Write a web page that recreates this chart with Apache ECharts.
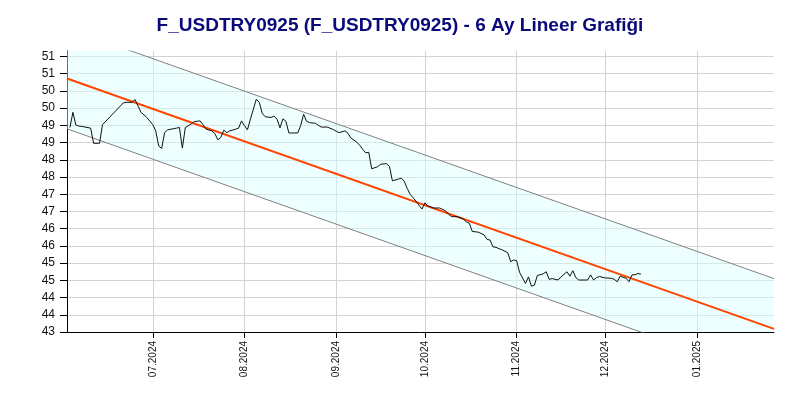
<!DOCTYPE html>
<html><head><meta charset="utf-8">
<script src="https://cdn.jsdelivr.net/npm/echarts@6/dist/echarts.min.js"></script>
<style>html,body{margin:0;padding:0;background:#fff}#c{width:800px;height:400px}</style>
</head><body><div id="c"></div>
<script>
const chartTitle = 'F_USDTRY0925 (F_USDTRY0925) - 6 Ay Lineer Grafiği';
const dates = [
'2024-06-03','2024-06-04','2024-06-05','2024-06-06','2024-06-07','2024-06-10','2024-06-11','2024-06-13','2024-06-14','2024-06-21',
'2024-06-22','2024-06-24','2024-06-25','2024-06-27','2024-06-29','2024-07-01','2024-07-02','2024-07-03','2024-07-04','2024-07-05',
'2024-07-06','2024-07-09','2024-07-10','2024-07-11','2024-07-12','2024-07-14','2024-07-15','2024-07-17','2024-07-18','2024-07-19',
'2024-07-21','2024-07-22','2024-07-23','2024-07-24','2024-07-25','2024-07-26','2024-07-27','2024-07-29','2024-07-30','2024-07-31',
'2024-08-01','2024-08-02','2024-08-03','2024-08-05','2024-08-06','2024-08-07','2024-08-08','2024-08-10','2024-08-11','2024-08-12',
'2024-08-13','2024-08-14','2024-08-15','2024-08-16','2024-08-17','2024-08-19','2024-08-20','2024-08-21','2024-08-22','2024-08-23',
'2024-08-25','2024-08-26','2024-08-27','2024-08-29','2024-08-31','2024-09-01','2024-09-02','2024-09-04','2024-09-05','2024-09-06',
'2024-09-08','2024-09-09','2024-09-10','2024-09-11','2024-09-12','2024-09-13','2024-09-15','2024-09-16','2024-09-18','2024-09-19',
'2024-09-20','2024-09-22','2024-09-23','2024-09-24','2024-09-25','2024-09-26','2024-09-27','2024-09-28','2024-09-29','2024-09-30',
'2024-10-01','2024-10-02','2024-10-04','2024-10-06','2024-10-08','2024-10-09','2024-10-10','2024-10-12','2024-10-14','2024-10-15',
'2024-10-16','2024-10-17','2024-10-19','2024-10-21','2024-10-22','2024-10-23','2024-10-24','2024-10-25','2024-10-26','2024-10-27',
'2024-10-29','2024-10-30','2024-10-31','2024-11-01','2024-11-02','2024-11-04','2024-11-05','2024-11-06','2024-11-07','2024-11-08',
'2024-11-10','2024-11-11','2024-11-12','2024-11-13','2024-11-15','2024-11-16','2024-11-18','2024-11-19','2024-11-20','2024-11-21',
'2024-11-22','2024-11-25','2024-11-26','2024-11-27','2024-11-28','2024-11-29','2024-12-01','2024-12-03','2024-12-04','2024-12-05',
'2024-12-06','2024-12-08','2024-12-09','2024-12-10','2024-12-11','2024-12-12','2024-12-13'
];
const values = [
48.94,49.38,49.01,48.98,48.97,48.92,48.48,48.48,49.02,49.65,
49.67,49.67,49.75,49.38,49.23,49.02,48.84,48.40,48.33,48.79,
48.87,48.92,48.94,48.34,48.94,49.04,49.11,49.13,49.02,48.89,
48.84,48.76,48.58,48.65,48.86,48.79,48.84,48.89,48.92,49.13,
48.99,48.87,49.18,49.76,49.67,49.35,49.25,49.23,49.27,49.18,
48.93,49.19,49.12,48.78,48.78,48.78,49.00,49.32,49.12,49.08,
49.06,49.00,48.95,48.95,48.88,48.83,48.79,48.84,48.77,48.63,
48.51,48.42,48.30,48.20,48.22,47.74,47.80,47.87,47.89,47.81,
47.39,47.44,47.47,47.38,47.17,47.00,46.90,46.80,46.68,46.57,
46.75,46.66,46.60,46.60,46.52,46.42,46.35,46.35,46.28,46.20,
46.16,45.92,45.90,45.82,45.69,45.67,45.47,45.46,45.42,45.39,
45.30,45.04,45.09,45.07,44.73,44.41,44.60,44.33,44.36,44.64,
44.69,44.75,44.53,44.55,44.51,44.60,44.75,44.62,44.78,44.58,
44.51,44.51,44.66,44.51,44.58,44.61,44.57,44.56,44.53,44.46,
44.62,44.56,44.46,44.66,44.66,44.70,44.68
];
const xRange = ['2024-06-02', '2025-01-27'];
const monthTicks = ['2024-07-01','2024-08-01','2024-09-01','2024-10-01','2024-11-01','2024-12-01','2025-01-01'];
const yTicks = [43,43.5,44,44.5,45,45.5,46,46.5,47,47.5,48,48.5,49,49.5,50,50.5,51];
const yMin = 43, yMax = 51.16;
const trendCenter = [50.36, 43.09];
const trendUpper = [51.82, 44.55];
const trendLower = [48.90, 41.63];

const ts = s => Date.parse(s + 'T00:00:00Z');
const pad = n => (n < 10 ? '0' : '') + n;
const pairs = (xs, ys) => xs.map((d, i) => [ts(d), ys[i]]);

// Sutherland-Hodgman clip of a polygon to an axis-aligned rect
function clipPoly(pts, r) {
  const edges = [
    [p => p[0] >= r.x, (a, b) => { const t = (r.x - a[0]) / (b[0] - a[0]); return [r.x, a[1] + t * (b[1] - a[1])]; }],
    [p => p[0] <= r.x + r.width, (a, b) => { const X = r.x + r.width, t = (X - a[0]) / (b[0] - a[0]); return [X, a[1] + t * (b[1] - a[1])]; }],
    [p => p[1] >= r.y, (a, b) => { const t = (r.y - a[1]) / (b[1] - a[1]); return [a[0] + t * (b[0] - a[0]), r.y]; }],
    [p => p[1] <= r.y + r.height, (a, b) => { const Y = r.y + r.height, t = (Y - a[1]) / (b[1] - a[1]); return [a[0] + t * (b[0] - a[0]), Y]; }]
  ];
  let out = pts;
  for (const [inside, inter] of edges) {
    const inp = out; out = [];
    for (let i = 0; i < inp.length; i++) {
      const cur = inp[i], prev = inp[(i + inp.length - 1) % inp.length];
      const ci = inside(cur), pi = inside(prev);
      if (ci) { if (!pi) out.push(inter(prev, cur)); out.push(cur); }
      else if (pi) out.push(inter(prev, cur));
    }
    if (!out.length) break;
  }
  return out;
}

const chart = echarts.init(document.getElementById('c'), null, {renderer: 'canvas'});
chart.setOption({
  animation: false,
  backgroundColor: '#fff',
  title: {
    text: chartTitle, left: 'center', top: 11,
    textStyle: {fontFamily: 'Liberation Sans, Arial, sans-serif', fontWeight: 'bold', fontSize: 19, color: '#0a0a7a'}
  },
  grid: {left: 67, right: 26, top: 51, bottom: 68},
  xAxis: {
    type: 'value', min: ts(xRange[0]), max: ts(xRange[1]),
    axisLine: {show: true, lineStyle: {color: '#000', width: 1}},
    axisTick: {show: true, length: 6, lineStyle: {color: '#000'}, customValues: monthTicks.map(ts)},
    axisLabel: {
      customValues: monthTicks.map(ts), rotate: 90, margin: 9,
      fontFamily: 'Liberation Sans, Arial, sans-serif', fontSize: 10, color: '#111',
      formatter: v => { const d = new Date(v); return pad(d.getUTCMonth() + 1) + '.' + d.getUTCFullYear(); }
    },
    splitLine: {show: true, lineStyle: {color: '#d3d3d3', width: 1}}
  },
  yAxis: {
    type: 'value', min: yMin, max: yMax,
    axisLine: {show: true, lineStyle: {color: '#000', width: 1}},
    axisTick: {show: true, length: 7, lineStyle: {color: '#000'}, customValues: yTicks},
    axisLabel: {
      customValues: yTicks, margin: 12,
      fontFamily: 'Liberation Sans, Arial, sans-serif', fontSize: 12, color: '#111',
      formatter: v => String(Math.round(v))
    },
    splitLine: {show: true, lineStyle: {color: '#d3d3d3', width: 1}}
  },
  series: [
    {type: 'custom', silent: true, z: 1,
     data: [[ts(xRange[0]), trendCenter[0]]],
     encode: {x: 0, y: 1},
     renderItem: (params, api) => {
       const corners = [
         api.coord([ts(xRange[0]), trendLower[0]]),
         api.coord([ts(xRange[1]), trendLower[1]]),
         api.coord([ts(xRange[1]), trendUpper[1]]),
         api.coord([ts(xRange[0]), trendUpper[0]])
       ];
       const cs = params.coordSys;
       const poly = clipPoly(corners, {x: cs.x, y: cs.y, width: cs.width, height: cs.height});
       return {type: 'polygon', shape: {points: poly}, style: {fill: 'rgba(215,255,255,0.45)', stroke: null}};
     }},
    {type: 'line', symbol: 'none', clip: true, data: pairs(xRange, trendUpper),
     lineStyle: {color: '#808080', width: 1}},
    {type: 'line', symbol: 'none', clip: true, data: pairs(xRange, trendLower),
     lineStyle: {color: '#808080', width: 1}},
    {type: 'line', symbol: 'none', clip: true, data: pairs(xRange, trendCenter),
     lineStyle: {color: '#ff4500', width: 2}},
    {type: 'line', symbol: 'none', clip: true, data: pairs(dates, values),
     lineStyle: {color: '#111', width: 1}}
  ]
});
</script>
</body></html>
